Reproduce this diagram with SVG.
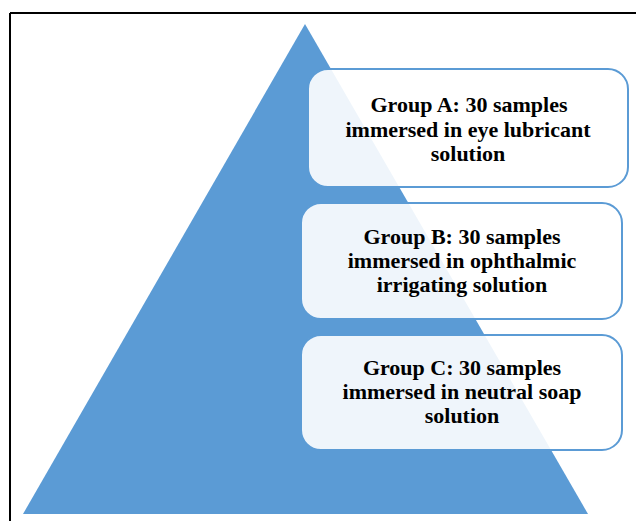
<svg xmlns="http://www.w3.org/2000/svg" width="636" height="521" viewBox="0 0 636 521">
<style>
.box{fill:#ffffff;fill-opacity:0.9;stroke:#5b9bd5;stroke-width:2}
.t{font-family:"Liberation Serif","Times New Roman",serif;font-size:22px;font-weight:bold;fill:#000;text-anchor:middle}
</style>
<rect width="636" height="521" fill="#ffffff"/>
<line x1="10" y1="13" x2="636" y2="13" stroke="#000" stroke-width="2"/>
<line x1="10" y1="13" x2="10" y2="521" stroke="#000" stroke-width="2"/>
<polygon id="pyramid" points="305,24 588,514 23,514" fill="#5b9bd5"/>
<g id="connectors"></g>
<g id="groupA">
<rect class="box" x="308" y="69" width="320" height="118" rx="20"/>
<text class="t" x="469" y="112">Group A: 30 samples</text>
<text class="t" x="468" y="137">immersed in eye lubricant</text>
<text class="t" x="468" y="161">solution</text>
</g>
<g id="groupB">
<rect class="box" x="301" y="203" width="321" height="116" rx="20"/>
<text class="t" x="462" y="244">Group B: 30 samples</text>
<text class="t" x="462" y="268">immersed in ophthalmic</text>
<text class="t" x="462" y="292">irrigating solution</text>
</g>
<g id="groupC">
<rect class="box" x="301" y="335" width="321" height="115" rx="20"/>
<text class="t" x="462" y="375">Group C: 30 samples</text>
<text class="t" x="462" y="399">immersed in neutral soap</text>
<text class="t" x="462" y="423">solution</text>
</g>
</svg>
